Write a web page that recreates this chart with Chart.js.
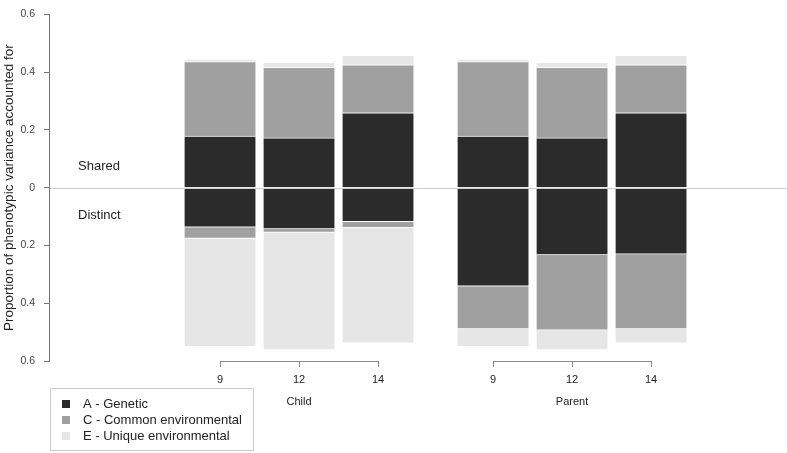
<!DOCTYPE html>
<html>
<head>
<meta charset="utf-8">
<script src="https://cdn.jsdelivr.net/npm/chart.js@4.4.1/dist/chart.umd.min.js"></script>
<style>
  body { margin: 0; background: #fff; }
  #wrap { width: 787px; height: 453px; }
</style>
</head>
<body>
<div id="wrap"><canvas id="chart" width="787" height="453"></canvas></div>
<script>
// categories
const groups = ['Child', 'Parent'];
const ages = ['9', '12', '14'];
const legendLabels = ['A - Genetic', 'C - Common environmental', 'E - Unique environmental'];

// shared variance (drawn above zero), one value per bar: Child 9,12,14 then Parent 9,12,14
const sharedA = [0.178, 0.172, 0.259, 0.178, 0.172, 0.259];
const sharedC = [0.258, 0.244, 0.166, 0.258, 0.244, 0.166];
const sharedE = [0.009, 0.018, 0.033, 0.009, 0.018, 0.033];

// distinct variance (drawn below zero)
const distinctA = [0.137, 0.143, 0.118, 0.341, 0.233, 0.230];
const distinctC = [0.039, 0.012, 0.021, 0.148, 0.260, 0.259];
const distinctE = [0.374, 0.407, 0.399, 0.061, 0.069, 0.049];

const colA = '#2b2b2b', colC = '#a0a0a0', colE = '#e6e6e6';
const textCol = '#222';
const fontFam = '"Liberation Sans", Arial, Helvetica, sans-serif';

// bar positions on a linear x scale (one unit per bar, extra space between groups)
const groupGap = 3.456;
const positions = [];
groups.forEach((g, gi) => ages.forEach((a, ai) => positions.push(gi * groupGap + ai)));

const toPoints = (vals, sign) => vals.map((v, i) => ({ x: positions[i], y: sign * v }));

function barSet(label, vals, sign, color) {
    return {
        label: label,
        data: toPoints(vals, sign),
        backgroundColor: color,
        borderColor: 'rgba(255,255,255,0.8)',
        borderWidth: { top: 1, bottom: 1, left: 0, right: 0 },
        borderSkipped: 'start',
        barThickness: 71
    };
}

// zero line, "Shared"/"Distinct" notes, age brackets, group names and boxed legend
const extras = {
    id: 'extras',
    afterDatasetsDraw(chart) {
        const { ctx, chartArea, scales: { x, y } } = chart;
        const y0 = Math.round(y.getPixelForValue(0)) + 0.5;
        ctx.save();
        ctx.strokeStyle = '#cfcfcf';
        ctx.lineWidth = 1;
        ctx.beginPath();
        ctx.moveTo(chartArea.left + 1, y0);
        ctx.lineTo(chartArea.right, y0);
        ctx.stroke();

        ctx.fillStyle = textCol;
        ctx.font = '13px ' + fontFam;
        ctx.textAlign = 'left';
        ctx.textBaseline = 'middle';
        ctx.fillText('Shared', 78, y0 - 22);
        ctx.fillText('Distinct', 78, y0 + 27);
        ctx.restore();
    },
    afterDraw(chart) {
        const { ctx, chartArea, scales: { x } } = chart;
        ctx.save();
        // brackets under each group
        const yb = Math.round(chartArea.bottom) + 0.5;
        ctx.strokeStyle = '#888';
        ctx.lineWidth = 1;
        ctx.fillStyle = textCol;
        ctx.font = '11px ' + fontFam;
        ctx.textAlign = 'center';
        ctx.textBaseline = 'middle';
        groups.forEach((g, gi) => {
            const x1 = x.getPixelForValue(positions[gi * 3]);
            const x2 = x.getPixelForValue(positions[gi * 3 + 2]);
            ctx.beginPath();
            ctx.moveTo(Math.round(x1), yb);
            ctx.lineTo(Math.round(x2) + 1, yb);
            ctx.stroke();
            ctx.fillText(g, (x1 + x2) / 2, 402);
        });

        // legend box
        ctx.strokeStyle = '#cccccc';
        ctx.strokeRect(50.5, 388.5, 203, 62);
        const cols = [colA, colC, colE];
        ctx.font = '13px ' + fontFam;
        ctx.textAlign = 'left';
        legendLabels.forEach((lab, i) => {
            const cy = 404 + i * 16;
            ctx.fillStyle = cols[i];
            ctx.fillRect(62, cy - 4, 8, 8);
            ctx.fillStyle = textCol;
            ctx.fillText(lab, 83, cy);
        });
        ctx.restore();
    }
};

new Chart(document.getElementById('chart'), {
    type: 'bar',
    data: {
        datasets: [
            barSet(legendLabels[0], sharedA, 1, colA),
            barSet(legendLabels[1], sharedC, 1, colC),
            barSet(legendLabels[2], sharedE, 1, colE),
            barSet(legendLabels[0], distinctA, -1, colA),
            barSet(legendLabels[1], distinctC, -1, colC),
            barSet(legendLabels[2], distinctE, -1, colE)
        ]
    },
    options: {
        responsive: false,
        animation: false,
        layout: { padding: { top: 5, bottom: 62, left: 0, right: 0 } },
        plugins: { legend: { display: false }, tooltip: { enabled: false } },
        scales: {
            x: {
                type: 'linear',
                stacked: true,
                offset: false,
                min: -2.165,
                max: 7.177,
                afterBuildTicks: s => { s.ticks = positions.map(v => ({ value: v })); },
                afterFit: s => { s.height = 30; },
                ticks: {
                    autoSkip: false,
                    maxRotation: 0,
                    padding: 6,
                    color: textCol,
                    font: { family: fontFam, size: 11 },
                    callback: (v, i) => ages[i % ages.length]
                },
                grid: { offset: false, drawOnChartArea: false, drawTicks: true, tickLength: 6, color: '#888' },
                border: { display: false }
            },
            y: {
                stacked: true,
                min: -0.6,
                max: 0.6,
                afterFit: s => { s.width = 49; },
                ticks: {
                    stepSize: 0.2,
                    padding: 9,
                    color: '#444',
                    font: { family: fontFam, size: 10.5, lineHeight: 1 },
                    callback: v => Math.abs(v) < 1e-9 ? '0' : Math.abs(v).toFixed(1)
                },
                grid: { drawOnChartArea: false, drawTicks: true, tickLength: 5, color: '#777' },
                border: { display: true, color: '#777' },
                title: {
                    display: true,
                    text: 'Proportion of phenotypic variance accounted for',
                    color: textCol,
                    font: { family: fontFam, size: 13.5 },
                    padding: { top: 1, bottom: 0 }
                }
            }
        }
    },
    plugins: [extras]
});
</script>
</body>
</html>
